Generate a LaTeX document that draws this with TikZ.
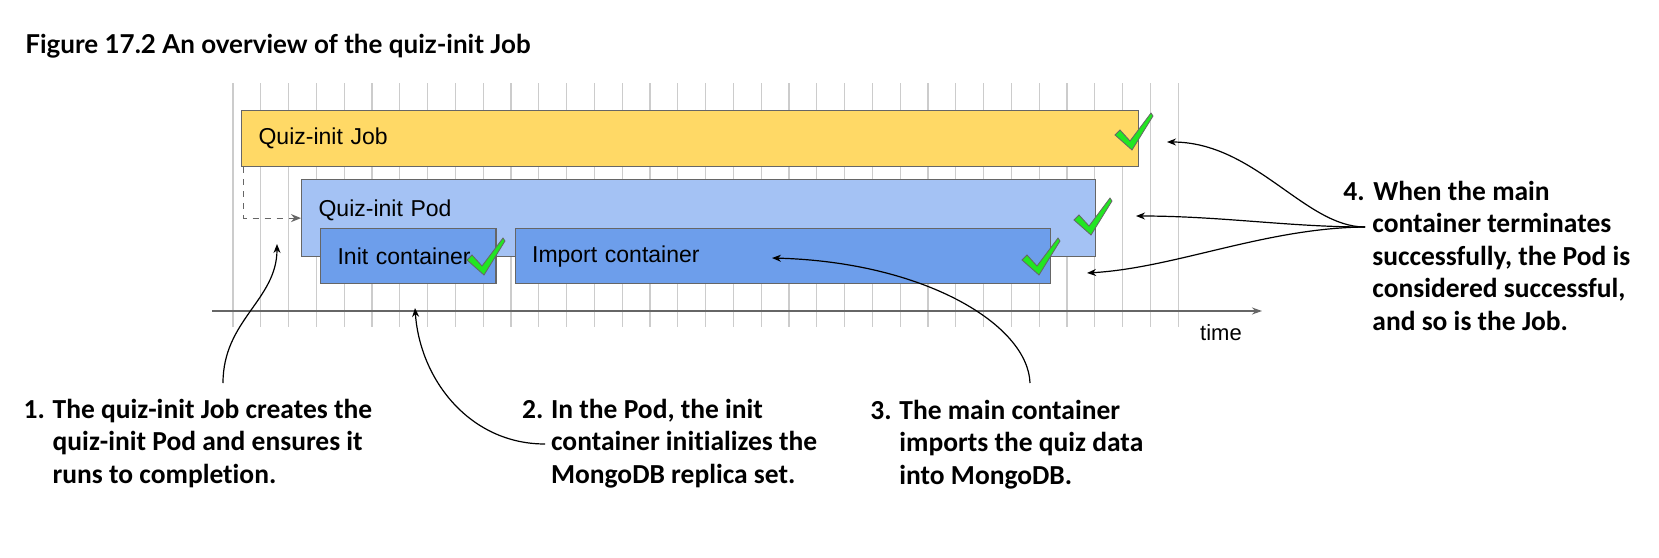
\documentclass[tikz,border=0pt]{standalone}
\usepackage{fontspec}
\setmainfont{Carlito}[Ligatures=NoCommon]
\newfontfamily\boxfont{Liberation Sans}
\newfontfamily\titlefont{Lato}
\usetikzlibrary{arrows.meta}

\definecolor{jobyellow}{HTML}{FFD966}
\definecolor{podblue}{HTML}{A4C2F4}
\definecolor{ctrblue}{HTML}{6D9EEB}
\definecolor{edgegray}{HTML}{666666}
\definecolor{gridgray}{HTML}{CCCCCC}
\definecolor{okgreen}{HTML}{22E622}

\newcommand{\indnt}{\hspace*{14.5pt}}

\tikzset{
  barbox/.style={draw=edgegray, line width=0.6pt, anchor=north west, inner xsep=8.5pt, inner ysep=0pt, align=left, font=\boxfont\fontsize{11.5}{13}\selectfont},
  notetext/.style={anchor=base west, inner sep=0pt, align=left, font=\fontsize{13.75}{16.25}\selectfont\bfseries},
  callout/.style={-{Stealth[length=4.5pt,width=3.5pt]}, line width=0.6pt},
  gridline/.style={gridgray, line width=0.6pt},
  check/.pic={\filldraw[fill=okgreen, draw=edgegray, line width=0.4pt] (1,1) -- (-16,-14) -- (-11,-19) -- (-1,-8) -- (20,-36) -- (22,-33) -- cycle;}
}

\begin{document}
\begin{tikzpicture}[x=0.5pt, y=-0.5pt]
    \useasboundingbox (0,0) rectangle (1659,557);
    \fill[white] (0,0) rectangle (1659,557);

    \node[anchor=base west, inner sep=0pt, font=\titlefont\bfseries\fontsize{13}{15}\selectfont] (title) at (25,53.3) {Figure 17.2 An overview of the quiz-init Job};

    % time grid
    \foreach \k in {0,...,34}
        \draw[gridline] ({233+27.8*\k},83) -- ({233+27.8*\k},327);

    \node[barbox, fill=jobyellow, minimum height=28pt, text width=431.5pt] (job) at (241,110) {Quiz-init Job};
    \node[barbox, fill=podblue, minimum height=38.5pt, text width=380pt, text depth=9.5pt] (pod) at (301,179) {Quiz-init Pod};
    \node[barbox, fill=ctrblue, minimum height=27.5pt, text width=70.7pt] (init) at (320,228) {Init container};
    \node[barbox, fill=ctrblue, minimum height=27.5pt, text width=250.75pt] (import) at (514.5,228) {Import container};

    \draw[edgegray, dashed, line width=0.6pt, -{Stealth[length=5pt,width=4pt]}] ([xshift=1.3pt]job.south west) |- (pod.west);

    % time axis
    \coordinate (t0) at (212,311);
    \coordinate (t1) at (1262,311);
    \draw[edgegray, line width=0.7pt, -{Stealth[length=5pt,width=3.5pt]}] (t0) -- (t1);
    \node[anchor=base, inner sep=0pt, font=\boxfont\fontsize{11}{13}\selectfont] (timelbl) at (1221,340.5) {time};

    \pic at (1131,149) {check};
    \pic at (1090,234) {check};
    \pic at (1038,274) {check};
    \pic at (483,274) {check};

    % notes (anchored on the baseline of the last line)
    \node[notetext] (lbl1) at (23.3,483.3) {\makebox[14.5pt][l]{1.}The quiz-init Job creates the\\\indnt quiz-init Pod and ensures it\\\indnt runs to completion.};
    \node[notetext] (lbl2) at (521.7,483.3) {\makebox[14.5pt][l]{2.}In the Pod, the init\\\indnt container initializes the\\\indnt MongoDB replica set.};
    \node[notetext] (lbl3) at (870,484) {\makebox[14.5pt][l]{3.}The main container\\\indnt imports the quiz data\\\indnt into MongoDB.};
    \node[notetext] (lbl4) at (1343,330) {\makebox[15pt][l]{4.}When the main\\\indnt container terminates\\\indnt successfully, the Pod is\\\indnt considered successful,\\\indnt and so is the Job.};

    \coordinate (s1) at (223,383);
    \coordinate (e1) at (277,244);
    \coordinate (s2) at (545,444);
    \coordinate (e2) at (415,308);
    \coordinate (s3) at (1030,383);
    \coordinate (e3) at (772,258);
    \coordinate (s4) at (1365,227);
    \coordinate (e4a) at (1167,142);
    \coordinate (e4b) at (1136,216);
    \coordinate (e4c) at (1087,273);

    \draw[callout] (s1) .. controls (223,320) and (277,300) .. (e1);
    \draw[callout] (s2) .. controls (470,444) and (420,380) .. (e2);
    \draw[callout] (s3) .. controls (1028,325) and (925,262) .. (e3);
    \draw[callout] (s4) .. controls (1305,227) and (1255,142) .. (e4a);
    \draw[callout] (s4) .. controls (1290,227) and (1220,216) .. (e4b);
    \draw[callout] (s4) .. controls (1265,228) and (1175,268) .. (e4c);
\end{tikzpicture}
\end{document}
